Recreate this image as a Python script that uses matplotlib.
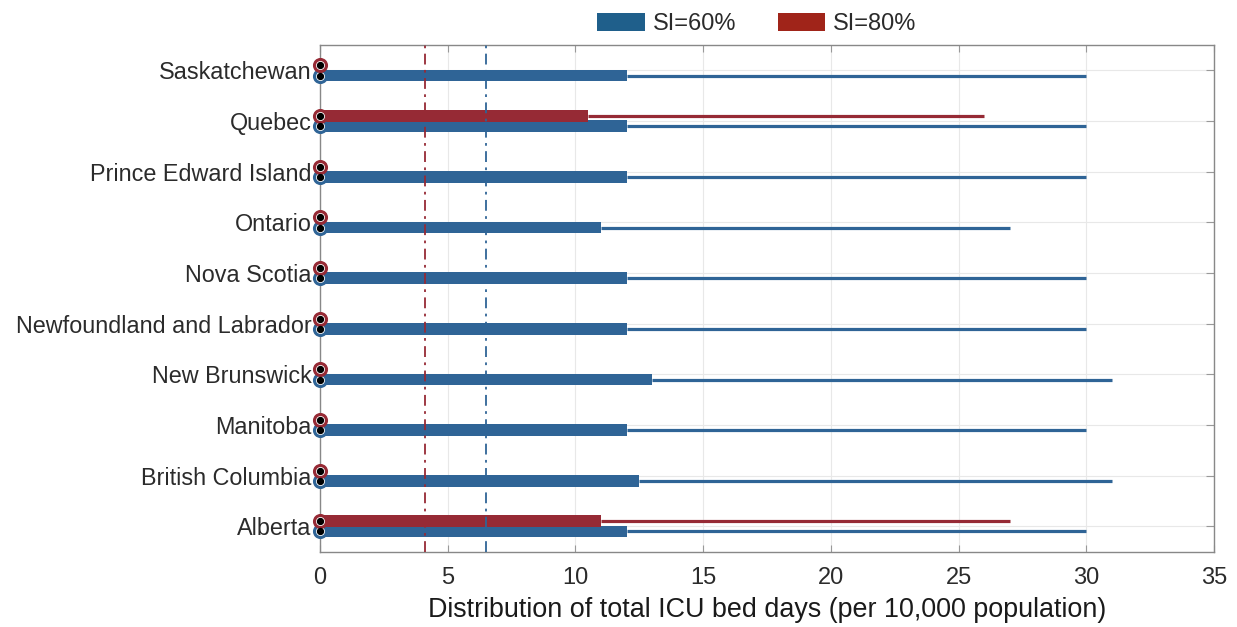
import matplotlib
import matplotlib.pyplot as plt
from matplotlib.patches import Patch

matplotlib.use("Agg")

provinces = [
    "Alberta", "British Columbia", "Manitoba", "New Brunswick",
    "Newfoundland and Labrador", "Nova Scotia", "Ontario",
    "Prince Edward Island", "Quebec", "Saskatchewan",
]

# SI=60%: box end and whisker end per province
si60_box = [12, 12.5, 12, 13, 12, 12, 11, 12, 12, 12]
si60_max = [30, 31, 30, 31, 30, 30, 27, 30, 30, 30]
# SI=80%: zero everywhere except Alberta and Quebec
si80_box = [11, 0, 0, 0, 0, 0, 0, 0, 10.5, 0]
si80_max = [27, 0, 0, 0, 0, 0, 0, 0, 26, 0]
si60_min = [0] * 10
si80_min = [0] * 10

si60_ref = 6.5
si80_ref = 4.1

blue = "#2f6496"
red = "#962a35"
legend_blue = "#1f5f8b"
legend_red = "#a02419"
text_color = "#2b2b2b"

plt.rcParams["font.family"] = ["Liberation Sans", "DejaVu Sans"]

fig = plt.figure(figsize=(12.37, 6.27), dpi=100)
ax = fig.add_axes([0.2587, 0.120, 0.7228, 0.808])

y = list(range(len(provinces)))
off = 0.1

for vals_box, vals_max, vals_min, color, dy in [
    (si60_box, si60_max, si60_min, blue, off),
    (si80_box, si80_max, si80_min, red, -off),
]:
    yy = [v - dy for v in y]
    ax.hlines(yy, vals_box, vals_max, color=color, linewidth=2.3, zorder=3)
    ax.barh(yy, vals_box, left=0, height=0.235, color=color, zorder=3)
    ax.scatter(vals_min, yy, s=75, facecolor="white", edgecolor=color,
               linewidth=2.2, zorder=5, clip_on=False)
    ax.scatter(vals_min, yy, s=18, color="black", zorder=6, clip_on=False)

ax.axvline(si80_ref, color=red, linestyle=(0, (6, 3, 1.5, 3)), linewidth=1.3, zorder=4)
ax.axvline(si60_ref, color=blue, linestyle=(0, (6, 3, 1.5, 3)), linewidth=1.3, zorder=4)

ax.set_xlim(0, 35)
ax.set_ylim(-0.5, 9.5)
ax.set_yticks(y)
ax.set_yticklabels(provinces, fontsize=16.8, color=text_color)
ax.set_xticks(range(0, 36, 5))
ax.tick_params(axis="x", labelsize=17, labelcolor=text_color, length=5,
               direction="in", top=True, color="#999999", pad=11)
ax.tick_params(axis="y", length=6, direction="in", right=True, left=True,
               color="#999999", pad=6)
ax.set_xlabel("Distribution of total ICU bed days (per 10,000 population)",
              fontsize=19.4, color="#1a1a1a", labelpad=6)

ax.grid(True, color="#e8e8e8", linewidth=0.8, zorder=0)
ax.set_axisbelow(True)
for s in ax.spines.values():
    s.set_color("#888888")
    s.set_linewidth(1.0)

handles = [Patch(facecolor=legend_blue, label="SI=60%"),
           Patch(facecolor=legend_red, label="SI=80%")]
fig.legend(handles=handles, loc="center", bbox_to_anchor=(0.612, 0.962),
           ncol=2, frameon=False, fontsize=17, handlelength=2.0,
           handleheight=0.8, columnspacing=1.75, handletextpad=0.35,
           labelcolor=text_color)

fig.savefig("out.png", dpi=100)
